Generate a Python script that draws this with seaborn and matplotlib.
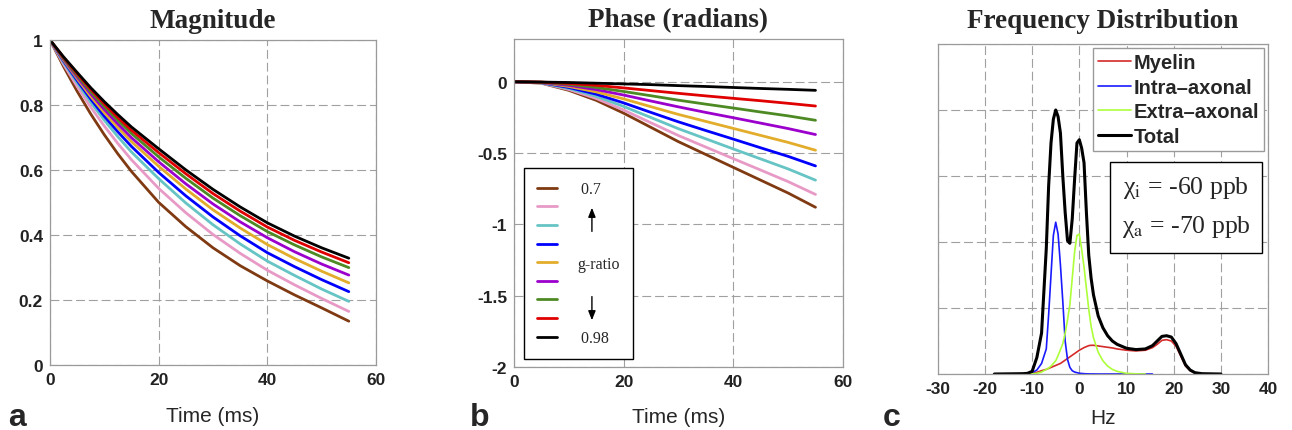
import numpy as np
import pandas as pd
import matplotlib
matplotlib.use("Agg")
import matplotlib.pyplot as plt
import seaborn as sns
from matplotlib.lines import Line2D
from matplotlib.patches import Rectangle

# ---------------- data ----------------
mag_time_ms = [0, 2.5, 5, 7.5, 10, 12.5, 15, 20, 25, 30, 35, 40, 45, 50, 55]
phase_time_ms = [0, 5, 10, 15, 20, 25, 30, 35, 40, 45, 50, 55]
curve_names = ["brown", "pink", "cyan", "blue", "orange", "purple", "green", "red", "black"]
curve_colors = ["#7f3a12", "#e89ac6", "#66c4c4", "#0000ff", "#e3ad2c", "#9b00cc", "#4e8a24", "#e00000", "#000000"]
legend_labels = [" 0.7", "", "", "", "g-ratio", "", "", "", " 0.98"]

mag_brown = [1, 0.918, 0.842, 0.772, 0.708, 0.649, 0.595, 0.500, 0.425, 0.360, 0.305, 0.258, 0.215, 0.175, 0.134]
mag_pink = [1, 0.925, 0.857, 0.793, 0.735, 0.681, 0.631, 0.543, 0.468, 0.401, 0.343, 0.291, 0.246, 0.204, 0.164]
mag_cyan = [1, 0.931, 0.868, 0.808, 0.753, 0.702, 0.655, 0.573, 0.498, 0.431, 0.372, 0.319, 0.275, 0.233, 0.195]
mag_blue = [1, 0.935, 0.875, 0.818, 0.765, 0.717, 0.672, 0.592, 0.520, 0.455, 0.397, 0.345, 0.302, 0.262, 0.225]
mag_orange = [1, 0.938, 0.881, 0.826, 0.776, 0.730, 0.687, 0.611, 0.541, 0.477, 0.421, 0.370, 0.327, 0.288, 0.252]
mag_purple = [1, 0.941, 0.886, 0.834, 0.786, 0.741, 0.699, 0.625, 0.557, 0.495, 0.440, 0.391, 0.348, 0.310, 0.276]
mag_green = [1, 0.943, 0.891, 0.841, 0.795, 0.752, 0.712, 0.640, 0.574, 0.513, 0.459, 0.410, 0.369, 0.332, 0.299]
mag_red = [1, 0.946, 0.896, 0.848, 0.803, 0.761, 0.722, 0.653, 0.588, 0.527, 0.473, 0.424, 0.383, 0.347, 0.314]
mag_black = [1, 0.948, 0.900, 0.853, 0.810, 0.770, 0.732, 0.665, 0.600, 0.540, 0.486, 0.437, 0.396, 0.360, 0.328]

ph_brown = [0, -0.010, -0.060, -0.130, -0.220, -0.320, -0.420, -0.510, -0.600, -0.690, -0.780, -0.880]
ph_pink = [0, -0.009, -0.054, -0.117, -0.198, -0.288, -0.377, -0.458, -0.539, -0.619, -0.700, -0.790]
ph_cyan = [0, -0.008, -0.047, -0.102, -0.173, -0.251, -0.329, -0.400, -0.471, -0.541, -0.611, -0.690]
ph_blue = [0, -0.006, -0.040, -0.087, -0.148, -0.215, -0.281, -0.342, -0.402, -0.463, -0.523, -0.590]
ph_orange = [0, -0.005, -0.033, -0.071, -0.120, -0.175, -0.229, -0.278, -0.327, -0.376, -0.425, -0.480]
ph_purple = [0, -0.004, -0.025, -0.055, -0.093, -0.135, -0.176, -0.215, -0.252, -0.290, -0.328, -0.370]
ph_green = [0, -0.003, -0.018, -0.040, -0.068, -0.098, -0.129, -0.157, -0.184, -0.212, -0.239, -0.270]
ph_red = [0, -0.002, -0.012, -0.025, -0.043, -0.062, -0.081, -0.099, -0.116, -0.133, -0.151, -0.170]
ph_black = [0, -0.002, -0.005, -0.010, -0.015, -0.020, -0.027, -0.033, -0.040, -0.047, -0.053, -0.060]

freq_hz = [-18, -12, -11, -10, -9, -8, -7, -6.5, -6, -5.5, -5, -4.5, -4, -3.5, -3, -2.5, -2, -1.5,
           -1, -0.5, 0, 0.5, 1, 1.5, 2, 2.5, 3, 4, 5, 6, 7, 8, 10, 12, 14, 15.5, 16.5, 17.5,
           18.5, 19.5, 20.5, 21.5, 22.5, 23.5, 24.5, 26, 30]
nan = np.nan
fd_myelin = [nan, nan, 0, 0.01, 0.025, 0.05, 0.07, 0.085, 0.10, 0.115, 0.13, 0.145, 0.16, 0.185, 0.21, 0.235, 0.26, 0.285,
             0.31, 0.335, 0.36, 0.38, 0.40, 0.415, 0.43, 0.435, 0.435, 0.425, 0.415, 0.405, 0.395, 0.38, 0.36, 0.35, 0.36, 0.40, 0.45, 0.51,
             0.52, 0.50, 0.42, 0.27, 0.12, 0.05, 0.015, 0, nan]
fd_intra = [nan, nan, 0.005, 0.02, 0.06, 0.16, 0.38, 0.90, 1.50, 2.10, 2.30, 2.12, 1.65, 1.10, 0.50, 0.22, 0.10, 0.05,
            0.03, 0.02, 0.012, 0.008, 0.005, 0.003, 0.002, 0.001, 0.001, 0, 0, 0, 0, 0, 0, 0, 0, 0, nan, nan,
            nan, nan, nan, nan, nan, nan, nan, nan, nan]
fd_extra = [nan, nan, 0, 0.005, 0.01, 0.03, 0.07, 0.09, 0.12, 0.16, 0.20, 0.28, 0.37, 0.46, 0.62, 0.82, 1.05, 1.45,
            1.85, 2.10, 2.12, 1.89, 1.62, 1.30, 0.98, 0.72, 0.55, 0.33, 0.20, 0.12, 0.07, 0.04, 0.01, 0.003, 0, nan, nan, nan,
            nan, nan, nan, nan, nan, nan, nan, nan, nan]
fd_total = [0, 0.005, 0.01, 0.04, 0.25, 0.62, 1.90, 2.85, 3.50, 3.86, 4.00, 3.90, 3.65, 3.00, 2.45, 2.02, 1.98, 2.35,
            2.95, 3.50, 3.55, 3.42, 3.20, 2.45, 1.80, 1.45, 1.20, 0.88, 0.70, 0.58, 0.50, 0.45, 0.39, 0.37, 0.38, 0.43, 0.50, 0.57,
            0.58, 0.56, 0.46, 0.30, 0.14, 0.06, 0.02, 0.005, 0]
fd_names = ["Myelin", "Intra\u2013axonal", "Extra\u2013axonal", "Total"]
fd_colors = ["#d42a2a", "#1a1aff", "#adff3a", "#000000"]
fd_widths = [1.2, 1.2, 1.2, 2.2]

chi_i_text = "\u03c7$_{\\mathrm{i}}$ = -60 ppb"
chi_a_text = "\u03c7$_{\\mathrm{a}}$ = -70 ppb"

# ---------------- style ----------------
sns.set_style("white")
plt.rcParams["font.family"] = ["Liberation Sans", "DejaVu Sans"]
plt.rcParams["mathtext.fontset"] = "stix"
plt.rcParams["axes.unicode_minus"] = False

fig = plt.figure(figsize=(12.92, 4.31), dpi=100)
axA = fig.add_axes([0.0387, 0.1515, 0.2523, 0.7534])
axB = fig.add_axes([0.3978, 0.1462, 0.2546, 0.7610])
axC = fig.add_axes([0.7258, 0.1299, 0.2557, 0.7657])

grid_kw = dict(color="#a0a0a0", linestyle=(0, (8, 3.5)), linewidth=0.8)
tick_font = dict(family="Liberation Sans", weight="bold", size=12.5)
title_font = dict(family="Liberation Serif", weight="bold", size=19.5)


def style_axes(ax):
    for s in ax.spines.values():
        s.set_color("#9a9a9a")
        s.set_linewidth(0.9)
    ax.grid(True, **grid_kw)
    ax.set_axisbelow(True)
    ax.tick_params(direction="in", length=3, color="#9a9a9a", pad=5, labelcolor="#222222")
    for lab in ax.get_xticklabels() + ax.get_yticklabels():
        lab.set_fontfamily(tick_font["family"])
        lab.set_fontweight(tick_font["weight"])
        lab.set_fontsize(tick_font["size"])


def long_frame(times, series):
    rows = []
    for name, vals in zip(curve_names, series):
        for t, v in zip(times, vals):
            rows.append((name, t, v))
    return pd.DataFrame(rows, columns=["curve", "t", "v"])


mag_df = long_frame(mag_time_ms, [mag_brown, mag_pink, mag_cyan, mag_blue, mag_orange, mag_purple,
                                  mag_green, mag_red, mag_black])
ph_df = long_frame(phase_time_ms, [ph_brown, ph_pink, ph_cyan, ph_blue, ph_orange, ph_purple,
                                   ph_green, ph_red, ph_black])

# ---------------- panel a ----------------
sns.lineplot(data=mag_df, x="t", y="v", hue="curve", hue_order=curve_names, palette=curve_colors,
             linewidth=2.0, legend=False, ax=axA, estimator=None, sort=False)
axA.set_xlim(0, 60)
axA.set_ylim(0, 1)
axA.set_xticks([0, 20, 40, 60])
axA.set_yticks([0, 0.2, 0.4, 0.6, 0.8, 1.0])
axA.set_yticklabels(["0", "0.2", "0.4", "0.6", "0.8", "1"])
axA.set_ylabel("")
axA.set_xlabel("Time (ms)", fontsize=15, family="Liberation Sans")
axA.xaxis.label.set_va("baseline")
axA.xaxis.set_label_coords(0.5, -0.172)
axA.set_title("Magnitude", pad=9.0, **title_font)
style_axes(axA)

# ---------------- panel b ----------------
sns.lineplot(data=ph_df, x="t", y="v", hue="curve", hue_order=curve_names, palette=curve_colors,
             linewidth=2.0, legend=False, ax=axB, estimator=None, sort=False)
axB.set_xlim(0, 60)
axB.set_ylim(-2, 0.3)
axB.set_xticks([0, 20, 40, 60])
axB.set_yticks([-2, -1.5, -1, -0.5, 0])
axB.set_yticklabels(["-2", "-1.5", "-1", "-0.5", "0"])
axB.set_ylabel("")
axB.set_xlabel("Time (ms)", fontsize=15, family="Liberation Sans")
axB.xaxis.label.set_va("baseline")
axB.xaxis.set_label_coords(0.5, -0.167)
axB.set_title("Phase (radians)", pad=9.0, **title_font)
style_axes(axB)

handles_b = [Line2D([], [], color=c, linewidth=2.0) for c in curve_colors]
legB = axB.legend(handles_b, legend_labels, loc="lower left", bbox_to_anchor=(0.030, 0.024),
                  borderaxespad=0, frameon=True, fancybox=False, edgecolor="black",
                  prop=dict(family="Liberation Serif", size=11.5), handlelength=1.3,
                  handletextpad=1.25, labelspacing=0.165, borderpad=0.8)
legB.get_frame().set_linewidth(1.0)
legB.get_frame().set_alpha(1)
legB.set_zorder(5)
for y0, y1 in [(0.405, 0.494), (0.223, 0.134)]:
    axB.annotate("", xy=(0.237, y1), xytext=(0.237, y0), xycoords="axes fraction",
                 arrowprops=dict(arrowstyle="-|>,head_width=0.22,head_length=0.55", color="black", lw=1.0),
                 zorder=10)

# ---------------- panel c ----------------
for name, vals, col, lw in zip(fd_names, [fd_myelin, fd_intra, fd_extra, fd_total], fd_colors, fd_widths):
    d = pd.DataFrame({"hz": freq_hz, "v": vals}).dropna()
    sns.lineplot(data=d, x="hz", y="v", color=col, linewidth=lw, ax=axC, label=name,
                 estimator=None, sort=False, legend=False)
axC.set_xlim(-30, 40)
axC.set_ylim(0, 5)
axC.set_xticks([-30, -20, -10, 0, 10, 20, 30, 40])
axC.set_yticks([0, 1, 2, 3, 4, 5])
axC.set_yticklabels([])
axC.set_ylabel("")
axC.set_xlabel("Hz", fontsize=15, family="Liberation Sans")
axC.xaxis.label.set_va("baseline")
axC.xaxis.set_label_coords(0.5, -0.147)
axC.set_title("Frequency Distribution", pad=12.0, **title_font)
style_axes(axC)

handles_c = [Line2D([], [], color=c, linewidth=w) for c, w in zip(fd_colors, fd_widths)]
legC = axC.legend(handles_c, fd_names, loc="upper right", bbox_to_anchor=(0.988, 0.988),
                  borderaxespad=0, frameon=True, fancybox=False, edgecolor="#9a9a9a",
                  prop=dict(family="Liberation Sans", weight="bold", size=14.5), handlelength=1.6,
                  handletextpad=0.15, labelspacing=0.28, borderpad=0.25)
legC.get_frame().set_linewidth(1.0)
legC.get_frame().set_alpha(1)

axC.add_patch(Rectangle((0.522, 0.367), 0.460, 0.275, transform=axC.transAxes,
                        facecolor="white", edgecolor="black", linewidth=1.0, zorder=5))
axC.text(0.752, 0.567, chi_i_text, transform=axC.transAxes, ha="center", va="center",
         fontsize=18.5, family="Liberation Serif", zorder=6)
axC.text(0.752, 0.448, chi_a_text, transform=axC.transAxes, ha="center", va="center",
         fontsize=18.5, family="Liberation Serif", zorder=6)

# ---------------- panel letters ----------------
for x, letter in [(0.0062, "a"), (0.3638, "b"), (0.6834, "c")]:
    fig.text(x, 0.012, letter, fontsize=23, fontweight="bold", family="Liberation Sans", va="baseline")

fig.savefig("out.png", dpi=100)
